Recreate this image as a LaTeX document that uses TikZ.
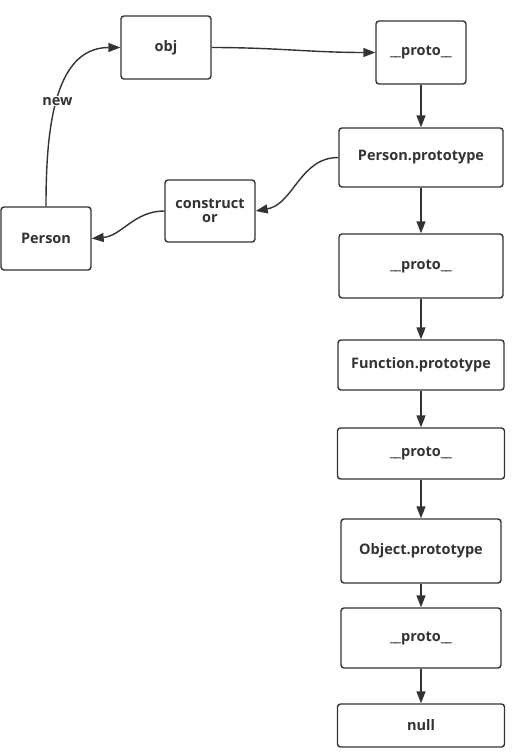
\documentclass[tikz,border=0pt]{standalone}
\usepackage{fontspec}
\setmainfont{Open Sans}
\usetikzlibrary{arrows.meta}
\definecolor{ink}{HTML}{333333}
\tikzset{
  box/.style={draw=ink, line width=1.4pt, rounded corners=3pt, fill=white,
    text=ink, font=\fontsize{14.5}{17}\selectfont\bfseries, align=center, inner sep=2pt},
  link/.style={draw=ink, line width=1.4pt, -{Triangle[length=12pt,width=9pt]}},
  lbl/.style={fill=white, text=ink, font=\fontsize{14.5}{17}\selectfont\bfseries, inner sep=1pt}
}
\newcommand{\protolbl}{\_\hspace{-1pt}\_proto\_\hspace{-1pt}\_}
\begin{document}
\begin{tikzpicture}[x=1pt,y=-1pt]
\useasboundingbox (0,0) rectangle (520,755);
\node[box, minimum width=90pt, minimum height=63pt] (obj) at (166,47.5) {obj};
\node[box, minimum width=90pt, minimum height=63pt] (p1) at (421,52.5) {\protolbl};
\node[box, minimum width=164pt, minimum height=59pt] (pp) at (421,157.5) {Person.prototype};
\node[box, minimum width=90pt, minimum height=62pt] (cons) at (210,211) {construct\\[-3pt]or};
\node[box, minimum width=90pt, minimum height=63pt] (person) at (46,238.5) {Person};
\node[box, minimum width=164pt, minimum height=64pt] (p2) at (421,266) {\protolbl};
\node[box, minimum width=166pt, minimum height=50pt] (fp) at (421,365) {Function.prototype};
\node[box, minimum width=167pt, minimum height=51pt] (p3) at (421,453.5) {\protolbl};
\node[box, minimum width=160pt, minimum height=64pt] (op) at (421,551) {Object.prototype};
\node[box, minimum width=160pt, minimum height=60pt] (p4) at (421,638) {\protolbl};
\node[box, minimum width=167pt, minimum height=43pt] (null) at (421,725.5) {null};

\draw[link] (obj.east) to[out=0,in=180] (p1.west);
\draw[link] (p1.south) -- (pp.north);
\draw[link] (pp.west) to[out=180,in=10] (cons.east);
\draw[link] (cons.west) to[out=180,in=5] (person.east);
\draw[link] (person.north) to[out=90,in=180] node[lbl, pos=0.5] (newlbl) {new} (obj.west);
\draw[link] (pp.south) -- (p2.north);
\draw[link] (p2.south) -- (fp.north);
\draw[link] (fp.south) -- (p3.north);
\draw[link] (p3.south) -- (op.north);
\draw[link] (op.south) -- (p4.north);
\draw[link] (p4.south) -- (null.north);
\end{tikzpicture}
\end{document}
